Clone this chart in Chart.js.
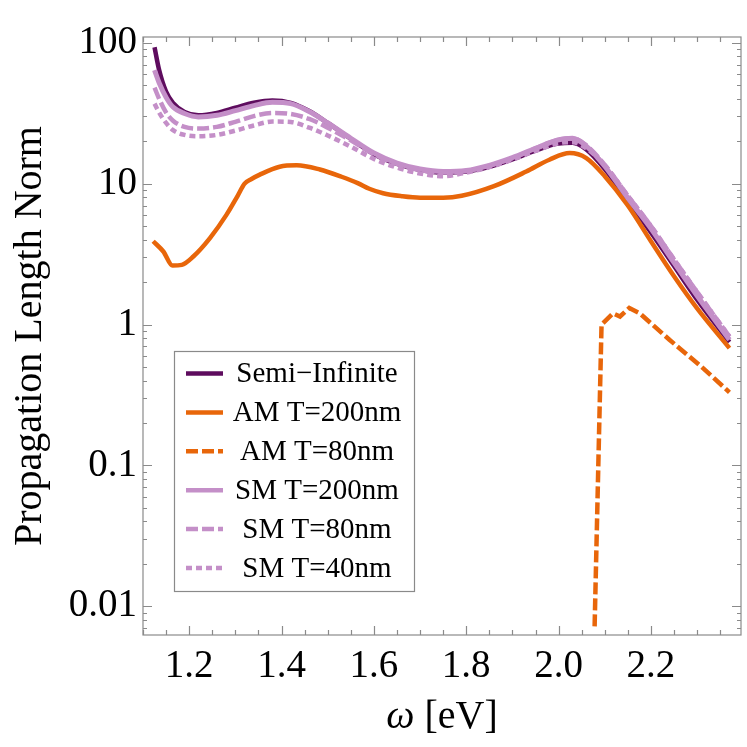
<!DOCTYPE html>
<html>
<head>
<meta charset="utf-8">
<script src="https://cdn.jsdelivr.net/npm/chart.js@4.4.1/dist/chart.umd.min.js"></script>
<style>
  body { margin: 0; background: #fff; }
  #wrap { width: 747px; height: 747px; }
</style>
</head>
<body>
<div id="wrap"><canvas id="chart-propagation"></canvas></div>
<script>
// photon energy grid shared by the purple curves
const omega = [1.125, 1.135, 1.15, 1.165, 1.19, 1.22, 1.26, 1.3, 1.34, 1.38, 1.42, 1.46, 1.5, 1.55, 1.6,
    1.65, 1.7, 1.75, 1.8, 1.85, 1.9, 1.95, 2.0, 2.03, 2.06, 2.1, 2.15, 2.2, 2.25, 2.3, 2.37];
const semiInfinite = [93, 64, 45, 37.5, 32.3, 30.6, 31.8, 34.6, 37.5, 39, 37.5, 32.8, 27, 20.8, 16.2,
    13.8, 12.5, 12, 12.2, 13.2, 14.9, 17.2, 19.3, 19.5, 17.5, 12.7, 7.6, 4.5, 2.6, 1.5, 0.75];
const sm200 = [64, 52, 41, 35, 31.5, 29.8, 30.6, 33, 35.8, 37.8, 37, 32.5, 27, 21, 16.5,
    14, 12.7, 12.2, 12.4, 13.5, 15.3, 17.8, 20.5, 21, 18.5, 13.3, 7.9, 4.8, 2.75, 1.6, 0.78];
const sm80 = [48, 40, 32, 28, 25.3, 24.6, 25.3, 27.5, 30.2, 31.8, 31.3, 28.8, 25, 20.3, 16.2,
    13.8, 12.5, 12, 12.3, 13.4, 15.2, 17.8, 20.5, 21, 18.7, 13.6, 8.2, 5.0, 2.9, 1.7, 0.82];
const sm40 = [37, 32, 27, 24, 22.2, 21.7, 22.2, 23.8, 25.9, 27.6, 27.4, 25, 22, 18.3, 15,
    13, 11.8, 11.3, 12.0, 13.1, 14.8, 17.1, 19.4, 19.7, 17.8, 13.5, 8.2, 5.0, 2.9, 1.7, 0.82];

// AM curves have their own sampling
const omegaAm200 = [1.122, 1.144, 1.164, 1.184, 1.209, 1.245, 1.281, 1.305, 1.32, 1.335, 1.353, 1.396, 1.433, 1.483,
    1.53, 1.565, 1.59, 1.62, 1.66, 1.7, 1.75, 1.79, 1.86, 1.93, 1.98, 2.024, 2.06, 2.1, 2.15, 2.2, 2.25, 2.3, 2.37];
const am200 = [3.9, 3.3, 2.62, 2.65, 3.04, 4.11, 6.03, 8.2, 10.0, 10.8, 11.6, 13.2, 13.5, 12.6,
    11.2, 10.1, 9.2, 8.55, 8.15, 7.95, 7.95, 8.2, 9.6, 12.2, 14.8, 16.5, 15.2, 11.3, 7.0, 3.9, 2.2, 1.3, 0.68];
const omegaAm80 = [2.078, 2.093, 2.118, 2.133, 2.153, 2.176, 2.24, 2.31, 2.37];
const am80 = [0.0072, 1.0, 1.2, 1.14, 1.31, 1.2, 0.78, 0.5, 0.33];

const xMajor = [1.2, 1.4, 1.6, 1.8, 2.0, 2.2];
const yMajor = [0.01, 0.1, 1, 10, 100];

const darkPurple = '#5e0c5e';
const orange = '#e8660a';
const lightPurple = '#c48fc8';
const serif = '"Liberation Serif", "Times New Roman", serif';

const toPoints = (xs, ys) => xs.map((x, i) => ({ x: x, y: ys[i] }));

// frame + inward ticks, Mathematica style
const framePlugin = {
    id: 'frame',
    afterDatasetsDraw(chart) {
        const { ctx, chartArea: a, scales: { x, y } } = chart;
        ctx.save();
        ctx.strokeStyle = '#8a8a8a';
        ctx.lineWidth = 1.2;
        ctx.strokeRect(a.left, a.top, a.right - a.left, a.bottom - a.top);
        ctx.beginPath();
        x.ticks.forEach(t => {
            const px = Math.round(x.getPixelForValue(t.value)) + 0.5;
            const len = t.major ? 9 : 5;
            ctx.moveTo(px, a.bottom); ctx.lineTo(px, a.bottom - len);
            ctx.moveTo(px, a.top); ctx.lineTo(px, a.top + len);
        });
        y.ticks.forEach(t => {
            const py = Math.round(y.getPixelForValue(t.value)) + 0.5;
            const len = t.major ? 9 : 4;
            ctx.moveTo(a.left, py); ctx.lineTo(a.left + len, py);
            ctx.moveTo(a.right, py); ctx.lineTo(a.right - len, py);
        });
        ctx.stroke();
        ctx.restore();
    },
    afterDraw(chart) {
        const { ctx, chartArea: a } = chart;
        // x axis title with italic omega
        ctx.save();
        ctx.fillStyle = '#000';
        ctx.textBaseline = 'middle';
        const f1 = 'italic 40px ' + serif, f2 = '40px ' + serif;
        ctx.font = f1; const w1 = ctx.measureText('ω').width;
        ctx.font = f2; const w2 = ctx.measureText(' [eV]').width;
        let sx = (a.left + a.right) / 2 - (w1 + w2) / 2;
        ctx.font = f1; ctx.fillText('ω', sx, 717);
        ctx.font = f2; ctx.fillText(' [eV]', sx + w1, 717);
        ctx.restore();

        // legend box
        const box = { left: 174, top: 351, right: 414, bottom: 591 };
        ctx.save();
        ctx.fillStyle = '#fff';
        ctx.fillRect(box.left, box.top, box.right - box.left, box.bottom - box.top);
        ctx.strokeStyle = '#8a8a8a';
        ctx.lineWidth = 1.2;
        ctx.strokeRect(box.left + 0.5, box.top + 0.5, box.right - box.left, box.bottom - box.top);
        ctx.font = '29px ' + serif;
        ctx.textAlign = 'center';
        ctx.textBaseline = 'middle';
        chart.data.datasets.forEach((ds, i) => {
            const yy = 373.5 + i * 38.9;
            ctx.beginPath();
            ctx.strokeStyle = ds.borderColor;
            ctx.lineWidth = 4.5;
            ctx.setLineDash(ds.borderDash || []);
            ctx.moveTo(186, yy); ctx.lineTo(223, yy);
            ctx.stroke();
            ctx.setLineDash([]);
            ctx.fillStyle = '#000';
            ctx.fillText(ds.label, 317, yy + 1);
        });
        ctx.restore();
    }
};

new Chart(document.getElementById('chart-propagation').getContext('2d'), {
    type: 'line',
    data: {
        datasets: [
            { label: 'Semi\u2212Infinite', data: toPoints(omega, semiInfinite), borderColor: darkPurple, borderWidth: 4.5, order: 6 },
            { label: 'AM T=200nm', data: toPoints(omegaAm200, am200), borderColor: orange, borderWidth: 4.5, order: 5 },
            { label: 'AM T=80nm', data: toPoints(omegaAm80, am80), borderColor: orange, borderWidth: 4.5, borderDash: [12, 4], tension: 0, cubicInterpolationMode: 'default', order: 4 },
            { label: 'SM T=200nm', data: toPoints(omega, sm200), borderColor: lightPurple, borderWidth: 5, order: 3 },
            { label: 'SM T=80nm', data: toPoints(omega, sm80), borderColor: lightPurple, borderWidth: 4.5, borderDash: [12, 4], order: 2 },
            { label: 'SM T=40nm', data: toPoints(omega, sm40), borderColor: lightPurple, borderWidth: 4.5, borderDash: [6, 4], order: 1 }
        ]
    },
    options: {
        responsive: true,
        maintainAspectRatio: false,
        animation: false,
        layout: { padding: { left: 0, top: 37, right: 6, bottom: 0 } },
        elements: {
            point: { radius: 0 },
            line: { cubicInterpolationMode: 'monotone', fill: false, borderCapStyle: 'butt' }
        },
        plugins: { legend: { display: false }, tooltip: { enabled: false } },
        scales: {
            x: {
                type: 'linear',
                min: 1.1,
                max: 2.395,
                grid: { display: false, drawTicks: false },
                border: { display: false },
                afterBuildTicks: scale => {
                    const ticks = [];
                    for (let k = 22; k <= 47; k++) {
                        const v = k * 0.05;
                        ticks.push({ value: v, major: xMajor.some(m => Math.abs(m - v) < 1e-6) });
                    }
                    scale.ticks = ticks;
                },
                afterFit: scale => { scale.height = 112; },
                ticks: {
                    autoSkip: false,
                    maxRotation: 0,
                    padding: 8,
                    color: '#000',
                    font: { family: serif, size: 39 },
                    callback: (value) => xMajor.some(m => Math.abs(m - value) < 1e-6) ? value.toFixed(1) : ''
                }
            },
            y: {
                type: 'logarithmic',
                min: 0.00625,
                max: 110,
                grid: { display: false, drawTicks: false },
                border: { display: false },
                afterBuildTicks: scale => {
                    const ticks = [];
                    for (let d = -3; d <= 2; d++) {
                        for (let m = 1; m <= 9; m++) {
                            const v = m * Math.pow(10, d);
                            if (v >= scale.min && v <= scale.max) ticks.push({ value: v, major: m === 1 });
                        }
                    }
                    scale.ticks = ticks;
                },
                afterFit: scale => { scale.width = 143; },
                title: {
                    display: true,
                    text: 'Propagation Length Norm',
                    color: '#000',
                    font: { family: serif, size: 40 },
                    padding: { top: 6, bottom: 0 }
                },
                ticks: {
                    autoSkip: false,
                    padding: 6,
                    color: '#000',
                    font: { family: serif, size: 39 },
                    callback: (value) => {
                        const hit = yMajor.find(m => Math.abs(m - value) / m < 1e-6);
                        return hit === undefined ? '' : String(hit);
                    }
                }
            }
        }
    },
    plugins: [framePlugin]
});
</script>
</body>
</html>
